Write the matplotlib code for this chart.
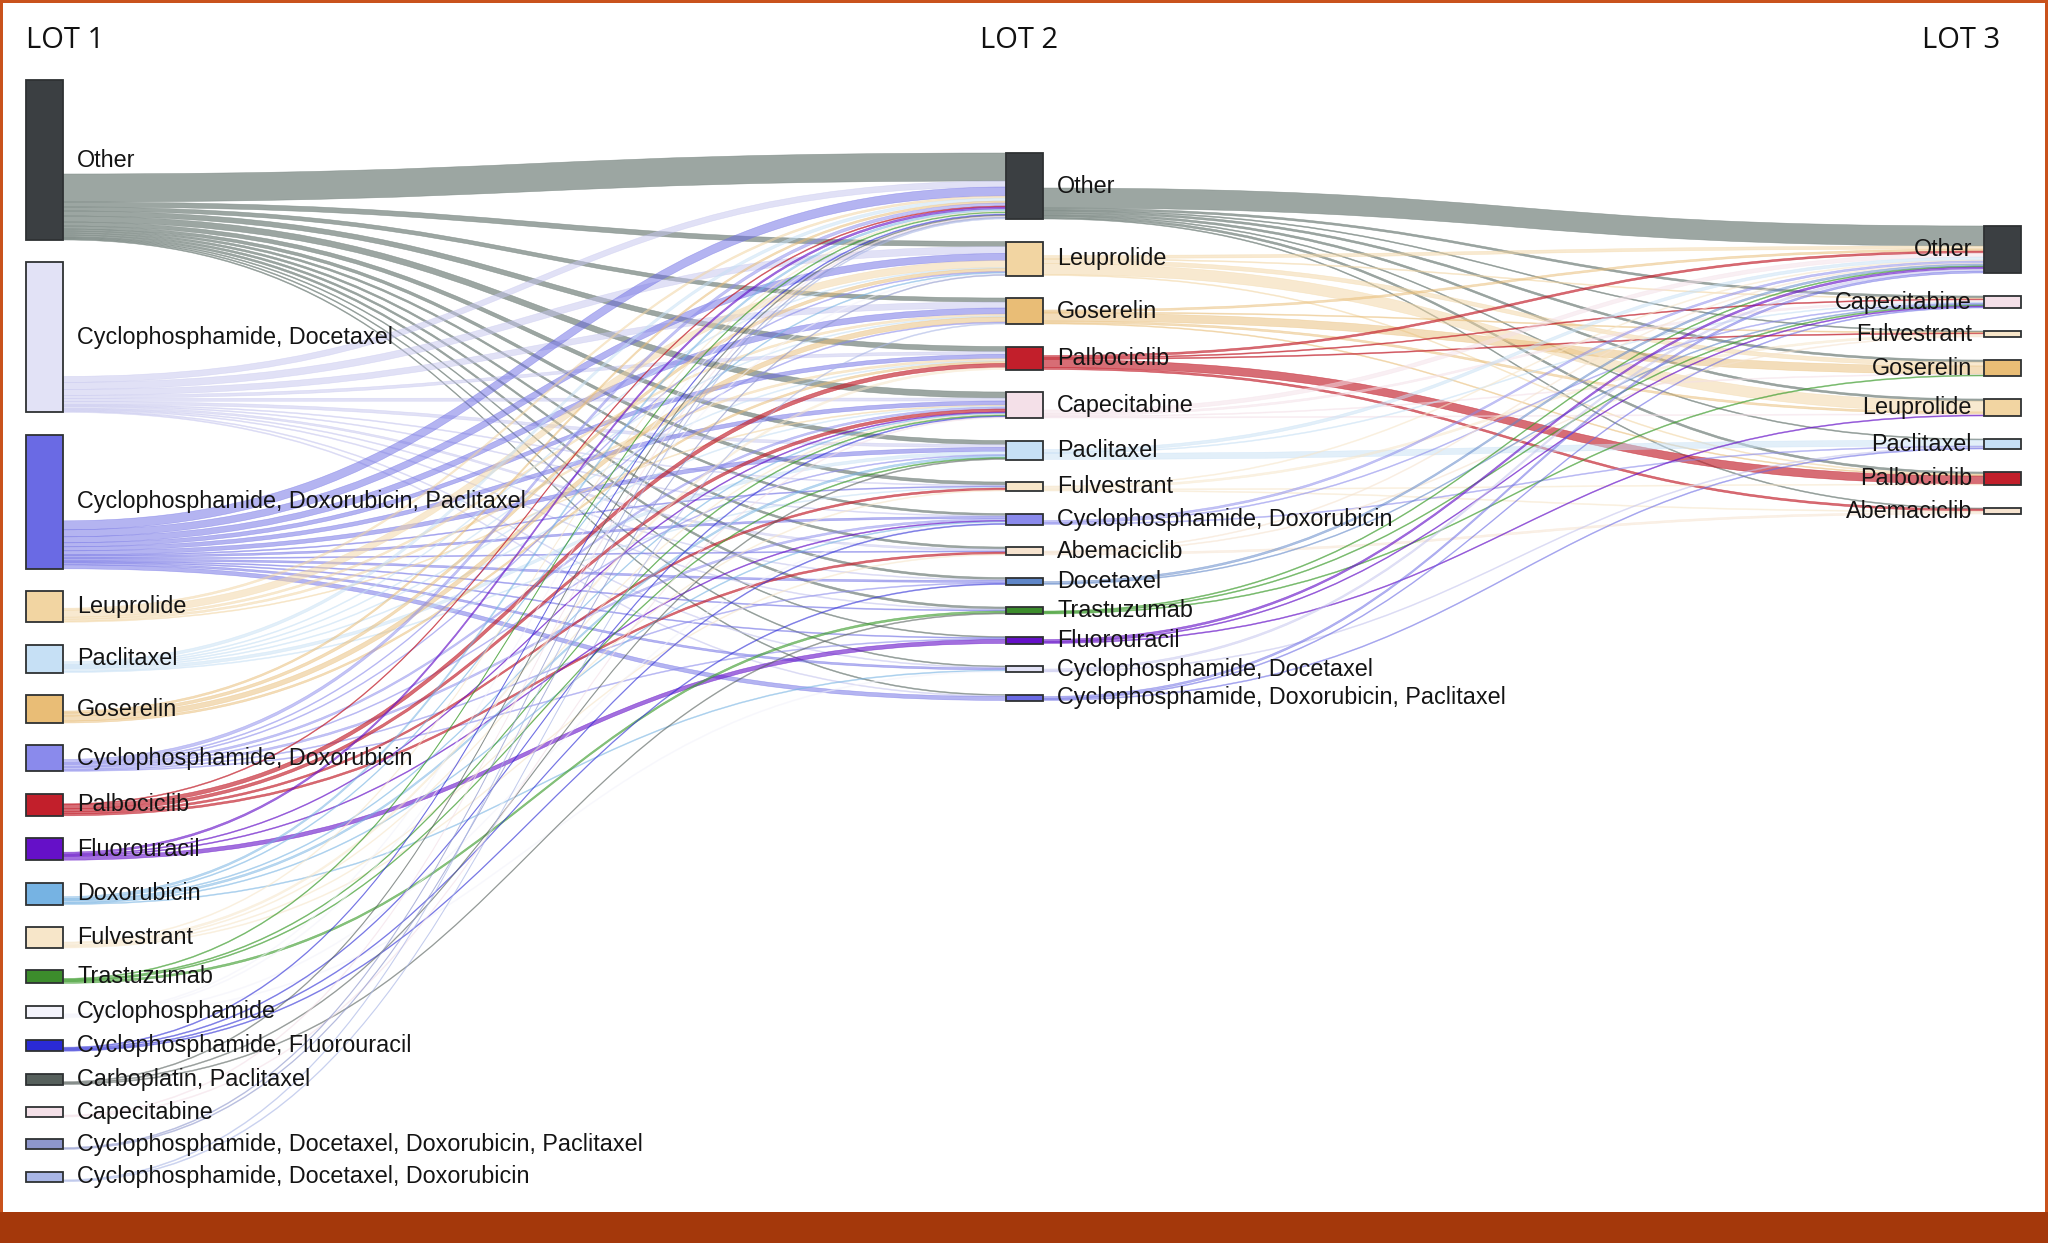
import matplotlib
matplotlib.use("Agg")
import matplotlib.pyplot as plt
from matplotlib.path import Path
from matplotlib.patches import PathPatch, Rectangle

# patients per line of therapy (LOT)
lot1_names = ["Other", "Cyclophosphamide, Docetaxel", "Cyclophosphamide, Doxorubicin, Paclitaxel",
              "Leuprolide", "Paclitaxel", "Goserelin", "Cyclophosphamide, Doxorubicin", "Palbociclib",
              "Fluorouracil", "Doxorubicin", "Fulvestrant", "Trastuzumab", "Cyclophosphamide",
              "Cyclophosphamide, Fluorouracil", "Carboplatin, Paclitaxel", "Capecitabine",
              "Cyclophosphamide, Docetaxel, Doxorubicin, Paclitaxel",
              "Cyclophosphamide, Docetaxel, Doxorubicin"]
lot1_counts = [160, 150, 134, 31, 28, 28, 26, 22, 22, 22, 21, 13, 12, 11, 11, 10, 10, 10]

lot2_names = ["Other", "Leuprolide", "Goserelin", "Palbociclib", "Capecitabine", "Paclitaxel",
              "Fulvestrant", "Cyclophosphamide, Doxorubicin", "Abemaciclib", "Docetaxel",
              "Trastuzumab", "Fluorouracil", "Cyclophosphamide, Docetaxel",
              "Cyclophosphamide, Doxorubicin, Paclitaxel"]
lot2_counts = [66, 34, 26, 23, 26, 19, 9, 11, 8, 7, 7, 7, 6, 6]

lot3_names = ["Other", "Capecitabine", "Fulvestrant", "Goserelin", "Leuprolide", "Paclitaxel",
              "Palbociclib", "Abemaciclib"]
lot3_counts = [47, 12, 6, 16, 17, 10, 13, 6]

# rows = LOT1 regimen, columns = LOT2 regimen
flow_1_2 = [
    [28, 5, 4, 5, 6, 4, 3, 2, 2, 2, 2, 1, 1, 1],
    [6, 7, 6, 3, 3, 3, 1, 1, 2, 1, 1, 0, 1, 1],
    [9, 7, 6, 4, 4, 4, 1, 2, 1, 2, 1, 1, 2, 4],
    [2, 7, 2, 2, 1, 0, 0, 0, 0, 0, 0, 0, 0, 0],
    [3, 1, 1, 1, 1, 3, 1, 0, 0, 0, 0, 0, 0, 0],
    [2, 3, 5, 2, 0, 0, 0, 0, 0, 0, 0, 0, 0, 0],
    [3, 1, 1, 0, 2, 1, 0, 2, 0, 1, 0, 1, 0, 0],
    [1, 0, 0, 4, 3, 0, 2, 0, 2, 0, 0, 0, 0, 0],
    [2, 0, 0, 0, 1, 0, 0, 1, 0, 0, 0, 4, 0, 0],
    [2, 1, 0, 0, 1, 2, 0, 1, 0, 0, 0, 0, 1, 0],
    [1, 0, 0, 2, 1, 0, 1, 0, 1, 0, 0, 0, 0, 0],
    [1, 0, 0, 0, 1, 1, 0, 0, 0, 0, 2, 0, 0, 0],
    [1, 1, 0, 0, 0, 0, 0, 1, 0, 0, 0, 0, 1, 0],
    [1, 0, 0, 0, 1, 0, 0, 1, 0, 1, 0, 0, 0, 0],
    [1, 0, 0, 0, 0, 1, 0, 0, 0, 0, 1, 0, 0, 0],
    [1, 0, 0, 0, 1, 0, 0, 0, 0, 0, 0, 0, 0, 0],
    [1, 1, 0, 0, 0, 0, 0, 0, 0, 0, 0, 0, 0, 0],
    [1, 0, 1, 0, 0, 0, 0, 0, 0, 0, 0, 0, 0, 0],
]

# rows = LOT2 regimen, columns = LOT3 regimen
flow_2_3 = [
    [20, 2, 1, 2, 2, 1, 2, 1],
    [3, 1, 0, 4, 11, 0, 1, 0],
    [2, 0, 1, 8, 2, 0, 1, 0],
    [2, 1, 1, 0, 0, 0, 8, 2],
    [4, 2, 0, 1, 1, 0, 0, 0],
    [3, 1, 0, 0, 0, 6, 0, 0],
    [1, 0, 2, 0, 0, 0, 1, 1],
    [2, 1, 0, 0, 0, 1, 0, 0],
    [1, 0, 1, 0, 0, 0, 0, 2],
    [2, 1, 0, 0, 0, 0, 0, 0],
    [1, 1, 0, 1, 0, 0, 0, 0],
    [2, 1, 0, 0, 1, 0, 0, 0],
    [2, 0, 0, 0, 0, 1, 0, 0],
    [2, 1, 0, 0, 0, 1, 0, 0],
]

colors = {
    "Other": "#3b3f42",
    "Cyclophosphamide, Docetaxel": "#e2e2f6",
    "Cyclophosphamide, Doxorubicin, Paclitaxel": "#6a6ae4",
    "Leuprolide": "#f2d5a2",
    "Paclitaxel": "#c6e0f5",
    "Goserelin": "#e9bd76",
    "Cyclophosphamide, Doxorubicin": "#8a8aec",
    "Palbociclib": "#c21f2b",
    "Fluorouracil": "#6510c8",
    "Doxorubicin": "#76b3e3",
    "Fulvestrant": "#f7e6c9",
    "Trastuzumab": "#3c8c2c",
    "Cyclophosphamide": "#f3f3fb",
    "Cyclophosphamide, Fluorouracil": "#2a2ad6",
    "Carboplatin, Paclitaxel": "#56605c",
    "Capecitabine": "#f4e0e8",
    "Cyclophosphamide, Docetaxel, Doxorubicin, Paclitaxel": "#8d96cc",
    "Cyclophosphamide, Docetaxel, Doxorubicin": "#a9b6e6",
    "Abemaciclib": "#f6e3cf",
    "Docetaxel": "#5f86c8",
}
flow_colors = {"Other": ("#7b8883", 0.75), "Cyclophosphamide, Docetaxel": ("#c4c4ee", 0.5),
               "Palbociclib": ("#c21f2b", 0.65), "Fluorouracil": ("#6510c8", 0.6),
               "Trastuzumab": ("#3c9c2c", 0.6)}

W, H = 2048, 1243
SCALE = 1.0   # px per patient
GAPS = [22.4, 22.5, 23.0]
NODE_W = 37
COL_X = [26, 1006, 1984]
COL_TOP = [80, 153, 226]
FONT = "Liberation Sans"


def layout(counts, top, gap):
    ys = []
    y = top
    for c in counts:
        ys.append(y)
        y += c * SCALE + gap
    return ys


def band(ax, x0, a0, b0, x1, a1, b1, color, alpha):
    xm = (x0 + x1) / 2
    verts = [(x0, a0), (xm, a0), (xm, a1), (x1, a1), (x1, b1), (xm, b1), (xm, b0), (x0, b0), (x0, a0)]
    codes = [Path.MOVETO, Path.CURVE4, Path.CURVE4, Path.CURVE4, Path.LINETO,
             Path.CURVE4, Path.CURVE4, Path.CURVE4, Path.CLOSEPOLY]
    ax.add_patch(PathPatch(Path(verts, codes), facecolor=color, edgecolor=color,
                           lw=0.4, alpha=alpha, zorder=1))


def draw_flows(ax, flows, src_names, src_counts, src_y, tgt_y, x0, x1):
    # outflows stacked at the bottom of the source node, inflows from the top of the target
    n_src = len(flows)
    n_tgt = len(flows[0])
    out_off = {}
    for i in range(n_src):
        y = src_y[i] + src_counts[i] * SCALE - sum(flows[i]) * SCALE
        for j in range(n_tgt):
            out_off[(i, j)] = y
            y += flows[i][j] * SCALE
    in_off = {}
    for j in range(n_tgt):
        y = tgt_y[j]
        for i in range(n_src):
            in_off[(i, j)] = y
            y += flows[i][j] * SCALE
    for i in range(n_src):
        c, a = flow_colors.get(src_names[i], (colors[src_names[i]], 0.5))
        for j in range(n_tgt):
            v = flows[i][j]
            if v == 0:
                continue
            h = v * SCALE
            band(ax, x0, out_off[(i, j)], out_off[(i, j)] + h,
                 x1, in_off[(i, j)], in_off[(i, j)] + h, c, a)


def draw_nodes(ax, names, counts, ys, x, label_side):
    for n, c, y in zip(names, counts, ys):
        ax.add_patch(Rectangle((x, y), NODE_W, c * SCALE, facecolor=colors[n],
                               edgecolor="#2e3133", lw=1.3, zorder=3))
        yc = y + c * SCALE / 2
        if label_side == "right":
            ax.text(x + NODE_W + 14, yc, n, ha="left", va="center", fontsize=16.8,
                    family=FONT, color="#141414", zorder=4)
        else:
            ax.text(x - 12, yc, n, ha="right", va="center", fontsize=16.8,
                    family=FONT, color="#141414", zorder=4)


fig = plt.figure(figsize=(W / 100, H / 100), dpi=100)
ax = fig.add_axes([0, 0, 1, 1])
ax.set_xlim(0, W)
ax.set_ylim(H, 0)
ax.axis("off")

y1 = layout(lot1_counts, COL_TOP[0], GAPS[0])
y2 = layout(lot2_counts, COL_TOP[1], GAPS[1])
y3 = layout(lot3_counts, COL_TOP[2], GAPS[2])

draw_flows(ax, flow_1_2, lot1_names, lot1_counts, y1, y2, COL_X[0] + NODE_W, COL_X[1])
draw_flows(ax, flow_2_3, lot2_names, lot2_counts, y2, y3, COL_X[1] + NODE_W, COL_X[2])

draw_nodes(ax, lot1_names, lot1_counts, y1, COL_X[0], "right")
draw_nodes(ax, lot2_names, lot2_counts, y2, COL_X[1], "right")
draw_nodes(ax, lot3_names, lot3_counts, y3, COL_X[2], "left")

ax.text(26, 40, "LOT 1", ha="left", va="center", fontsize=21, family="Open Sans", color="#111111")
ax.text(1019, 40, "LOT 2", ha="center", va="center", fontsize=21, family="Open Sans", color="#111111")
ax.text(2000, 40, "LOT 3", ha="right", va="center", fontsize=21, family="Open Sans", color="#111111")

# frame
ax.add_patch(Rectangle((0, 0), W, 3, facecolor="#c9521c", lw=0, zorder=5))
ax.add_patch(Rectangle((0, 0), 2.5, H, facecolor="#c9521c", lw=0, zorder=5))
ax.add_patch(Rectangle((W - 3, 0), 3, H, facecolor="#c9521c", lw=0, zorder=5))
ax.add_patch(Rectangle((0, 1212), W, H - 1212, facecolor="#a4380b", lw=0, zorder=5))

fig.savefig("out.png", dpi=100)
